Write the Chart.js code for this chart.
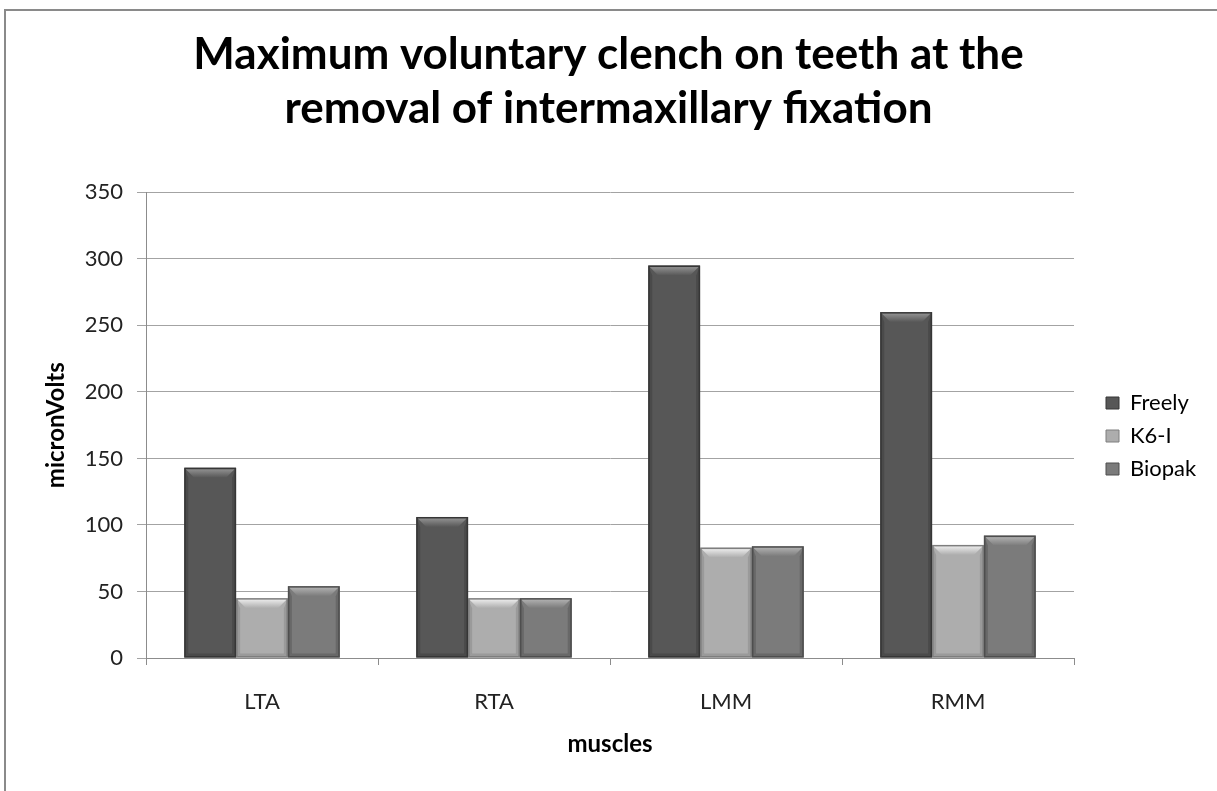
<!DOCTYPE html>
<html>
<head>
<meta charset="utf-8">
<title>Maximum voluntary clench</title>
<script src="https://cdn.jsdelivr.net/npm/chart.js@4.4.1/dist/chart.umd.min.js"></script>
<style>
  html, body { margin: 0; padding: 0; background: #fff; overflow: hidden; }
  #frame {
    position: absolute; left: 4px; top: 9px;
    width: 1300px; height: 900px;
    border-left: 2px solid #8a8a8a;
    border-top: 2px solid #8a8a8a;
  }
  #wrap { position: absolute; left: 0; top: 0; width: 1217px; height: 791px; }
</style>
</head>
<body>
<div id="frame"></div>
<div id="wrap"><canvas id="grafico"></canvas></div>
<script>
const muscles = ['LTA', 'RTA', 'LMM', 'RMM'];
const freely = [143, 106, 295, 260];
const k6i = [45, 45, 83, 85];
const biopak = [54, 45, 84, 92];
const yTicks = [0, 50, 100, 150, 200, 250, 300, 350];

const FONT = 'Lato, "Open Sans", sans-serif';

// cores de cada série: corpo, borda, chanfro
const tons = [
  { body: '#575757', edge: '#363636', bevel: '#9a9a9a' },
  { body: '#adadad', edge: '#7e7e7e', bevel: '#f4f4f4' },
  { body: '#7b7b7b', edge: '#4e4e4e', bevel: '#b8b8b8' }
];

// chanfro no topo e sombra nas laterais, imitando barras 3D do Excel
const bevelPlugin = {
  id: 'bevel',
  afterDatasetsDraw(chart) {
    const ctx = chart.ctx;
    chart.data.datasets.forEach((ds, i) => {
      const meta = chart.getDatasetMeta(i);
      const t = tons[i];
      meta.data.forEach(bar => {
        const w = bar.width;
        const l = bar.x - w / 2, r = bar.x + w / 2;
        const top = bar.y, bot = bar.base;
        const b = Math.min(10, (bot - top) / 3);
        ctx.save();
        // topo claro
        const g = ctx.createLinearGradient(0, top, 0, top + b);
        g.addColorStop(0, t.bevel);
        g.addColorStop(1, t.body);
        ctx.fillStyle = g;
        ctx.beginPath();
        ctx.moveTo(l, top);
        ctx.lineTo(r, top);
        ctx.lineTo(r - b, top + b);
        ctx.lineTo(l + b, top + b);
        ctx.closePath();
        ctx.fill();
        // laterais escuras
        ctx.globalAlpha = 0.4;
        ctx.fillStyle = t.edge;
        ctx.beginPath();
        ctx.moveTo(r, top); ctx.lineTo(r, bot); ctx.lineTo(r - 4, bot - 4); ctx.lineTo(r - 4, top + b);
        ctx.closePath(); ctx.fill();
        ctx.beginPath();
        ctx.moveTo(l, top); ctx.lineTo(l, bot); ctx.lineTo(l + 4, bot - 4); ctx.lineTo(l + 4, top + b);
        ctx.closePath(); ctx.fill();
        ctx.beginPath();
        ctx.moveTo(l, bot); ctx.lineTo(r, bot); ctx.lineTo(r - 4, bot - 4); ctx.lineTo(l + 4, bot - 4);
        ctx.closePath(); ctx.fill();
        ctx.globalAlpha = 1;
        ctx.strokeStyle = t.edge;
        ctx.lineWidth = 1.5;
        ctx.strokeRect(l + 0.75, top + 0.75, w - 1.5, bot - top - 1.5);
        ctx.restore();
      });
    });
  }
};

// legenda com largura fixa e posição ajustada
const legendPlugin = {
  id: 'legendPos',
  beforeLayout(chart) {
    const lg = chart.legend;
    if (lg && !lg._patched) {
      const fit = lg.fit.bind(lg);
      lg.fit = function () { fit(); this.width = 143; };
      lg._patched = true;
    }
  },
  afterLayout(chart) {
    const lg = chart.legend;
    const h = lg.height;
    lg.left = 1095; lg.right = lg.left + 143;
    lg.top = 381; lg.bottom = lg.top + h;
  }
};

const ctx = document.getElementById('grafico').getContext('2d');

new Chart(ctx, {
  type: 'bar',
  data: {
    labels: muscles,
    datasets: [
      { label: 'Freely', data: freely, backgroundColor: tons[0].body },
      { label: 'K6-I', data: k6i, backgroundColor: tons[1].body },
      { label: 'Biopak', data: biopak, backgroundColor: tons[2].body }
    ]
  },
  options: {
    responsive: true,
    maintainAspectRatio: false,
    animation: false,
    layout: { padding: 0 },
    datasets: { bar: { categoryPercentage: 0.67, barPercentage: 1 } },
    plugins: {
      title: {
        display: true,
        text: ['Maximum voluntary clench on teeth at the', 'removal of intermaxillary fixation'],
        color: '#000',
        font: { family: FONT, size: 44, weight: 'bold', lineHeight: 1.22 },
        padding: { top: 28, bottom: 57 }
      },
      legend: {
        position: 'right',
        align: 'start',
        labels: {
          color: '#222',
          font: { family: FONT, size: 22 },
          boxWidth: 13,
          boxHeight: 12,
          padding: 11,
          generateLabels(chart) {
            return chart.data.datasets.map((ds, i) => ({
              text: ds.label,
              fillStyle: tons[i].body,
              strokeStyle: tons[i].edge,
              lineWidth: 1,
              datasetIndex: i,
              hidden: false
            }));
          }
        }
      },
      tooltip: { enabled: false }
    },
    scales: {
      x: {
        afterFit(scale) { scale.height = 133; },
        grid: { drawOnChartArea: false, tickLength: 7, color: '#8c8c8c' },
        border: { color: '#8c8c8c' },
        ticks: { color: '#222', padding: 24, font: { family: FONT, size: 22 } },
        title: {
          display: true, text: 'muscles', color: '#000',
          font: { family: FONT, size: 24, weight: 'bold' },
          padding: { top: 0, bottom: 32 }
        }
      },
      y: {
        min: 0,
        max: 350,
        afterFit(scale) { scale.width = 146; },
        afterBuildTicks(scale) { scale.ticks = yTicks.map(v => ({ value: v })); },
        grid: { color: '#a3a3a3', tickLength: 9 },
        border: { color: '#8c8c8c' },
        ticks: { color: '#222', padding: 14, font: { family: FONT, size: 22 } },
        title: {
          display: true, text: 'micronVolts', color: '#000',
          font: { family: FONT, size: 24, weight: 'bold' },
          padding: { top: 42, bottom: 0 }
        }
      }
    }
  },
  plugins: [bevelPlugin, legendPlugin]
});
</script>
</body>
</html>
